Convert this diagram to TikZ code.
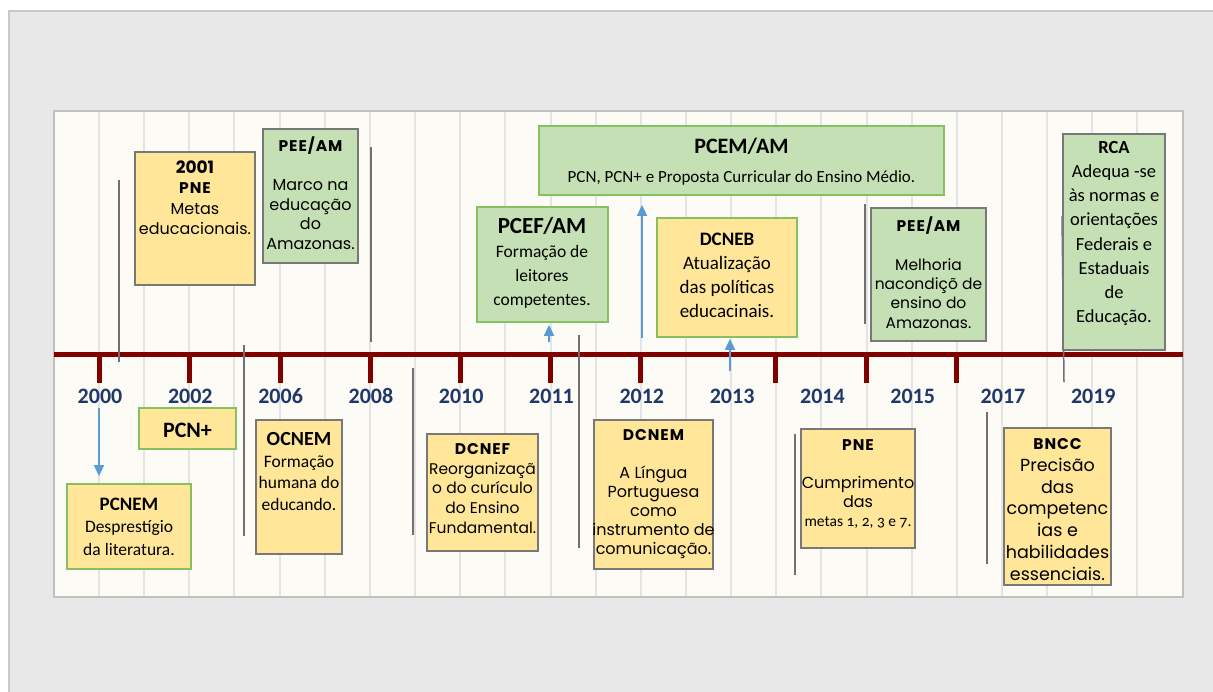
\documentclass[tikz,border=0pt]{standalone}
\usepackage{fontspec}
\setmainfont{Carlito}
\newfontfamily\gothic{Poppins}
\usetikzlibrary{arrows.meta}
\definecolor{outerbg}{RGB}{232,232,232}
\definecolor{outerline}{RGB}{200,200,200}
\definecolor{panelbg}{RGB}{253,251,245}
\definecolor{panelline}{RGB}{192,192,192}
\definecolor{gridgrey}{RGB}{228,228,228}
\definecolor{lineRed}{RGB}{128,0,0}
\definecolor{boxyellow}{RGB}{255,230,153}
\definecolor{boxgreen}{RGB}{197,224,180}
\definecolor{edgegrey}{RGB}{120,120,120}
\definecolor{edgegreen}{RGB}{135,192,95}
\definecolor{arrowblue}{RGB}{91,155,213}
\definecolor{yearblue}{RGB}{31,56,105}
\definecolor{leadgrey}{RGB}{112,112,112}
\newcommand{\gtitle}[1]{{\bfseries\fontsize{15.5}{15.5}\selectfont\addfontfeatures{LetterSpace=6}#1}}
\begin{document}
\begin{tikzpicture}[x=1pt, y=-1pt,
    ybox/.style={fill=boxyellow, draw=edgegrey, line width=1.8pt},
    gbox/.style={fill=boxgreen, draw=edgegrey, line width=1.8pt},
    gedge/.style={draw=edgegreen},
    year/.style={text=yearblue, anchor=base, font=\bfseries\fontsize{22}{22}\selectfont},
    tick/.style={lineRed, line width=5pt},
    leader/.style={leadgrey, line width=1.5pt},
    bluearrow/.style={arrowblue, line width=1.8pt, -{Triangle[width=10pt,length=11pt]}},
    txt/.style={align=center, inner sep=0pt}]
    \useasboundingbox (0,0) rectangle (1213,691);
    \clip (0,0) rectangle (1213,691);
    % page and panel
    \fill[white] (0,0) rectangle (1213,691);
    \draw[fill=outerbg, draw=outerline, line width=2pt] (9,11) rectangle (1240,720);
    \draw[fill=panelbg, draw=panelline, line width=2pt] (54,111) rectangle (1183,597);
    \foreach \k in {0,...,23}
        \draw[gridgrey, line width=2pt] ({99+45.15*\k},112) -- ({99+45.15*\k},596);
    % timeline
    \draw[lineRed, line width=5pt] (54,354.5) -- (1183,354.5);
    \foreach \t in {99,189,280,370,460,550,640,775,866,956}
        \draw[tick] (\t,354) -- (\t,383);
    % grey guide lines
    \draw[leader] (119,180) -- (119,362);
    \draw[leader] (371,147) -- (371,342);
    \draw[leader] (244,345) -- (244,536);
    \draw[leader] (413,368) -- (413,535);
    \draw[leader] (579,335) -- (579,548);
    \draw[leader] (795,434) -- (795,575);
    \draw[leader] (865,204) -- (865,324);
    \draw[leader] (987,412) -- (987,564);
    \draw[leader] (1062,216) -- (1064,382);
    % boxes above the line
    \node[ybox, minimum width=120pt, minimum height=133pt] (pne01) at (195,218.5) {};
    \node[gbox, minimum width=95pt, minimum height=134pt] (pee08) at (310.5,196) {};
    \node[gbox, gedge, minimum width=405pt, minimum height=69pt] (pcem) at (741.5,160.5) {};
    \node[gbox, gedge, minimum width=131pt, minimum height=115pt] (pcef) at (542.5,264.5) {};
    \node[ybox, gedge, minimum width=140pt, minimum height=119pt] (dcneb) at (727,277.5) {};
    \node[gbox, minimum width=115pt, minimum height=133pt] (pee15) at (928.5,274.5) {};
    \node[gbox, minimum width=102pt, minimum height=216pt] (rca) at (1114,242) {};
    % boxes below the line
    \node[ybox, gedge, minimum width=97pt, minimum height=41pt] (pcnplus) at (187.5,428.5) {};
    \node[ybox, gedge, minimum width=124pt, minimum height=85pt] (pcnem) at (129,526.5) {};
    \node[ybox, minimum width=86pt, minimum height=134pt] (ocnem) at (299,487) {};
    \node[ybox, minimum width=111pt, minimum height=117pt] (dcnef) at (482.5,492.5) {};
    \node[ybox, minimum width=119pt, minimum height=149pt] (dcnem) at (653.5,494.5) {};
    \node[ybox, minimum width=114pt, minimum height=119pt] (pne14) at (858,488.5) {};
    \node[ybox, minimum width=107pt, minimum height=157pt] (bncc) at (1057.5,506.5) {};
    % texts
    \node[txt, font=\gothic\fontsize{16}{20.5}\selectfont] (pne01t) at (195,197.5)
        {{\bfseries\fontsize{17}{17}\selectfont 2001}\\\gtitle{PNE}\\Metas\\educacionais.};
    \node[txt, font=\gothic\fontsize{16}{19.5}\selectfont] (pee08t) at (310.5,193)
        {\gtitle{PEE/AM}\\[19.5pt]Marco na\\educação\\do\\Amazonas.};
    \node[txt, font=\fontsize{17}{29}\selectfont] (pcemt) at (741.5,161.5)
        {{\bfseries\fontsize{22}{22}\selectfont PCEM/AM}\\PCN, PCN+ e Proposta Curricular do Ensino Médio.};
    \node[txt, font=\fontsize{17.5}{24}\selectfont] (pceft) at (542,263)
        {{\bfseries\fontsize{23}{23}\selectfont PCEF/AM}\\Formação de\\leitores\\competentes.};
    \node[txt, font=\fontsize{19}{24}\selectfont] (dcnebt) at (727,275)
        {{\bfseries DCNEB}\\Atualização\\das políticas\\educacinais.};
    \node[txt, font=\gothic\fontsize{15.5}{19.3}\selectfont] (pee15t) at (928.5,272.5)
        {\gtitle{PEE/AM}\\[19.3pt]Melhoria\\nacondiçõ de\\ensino do\\Amazonas.};
    \node[txt, font=\fontsize{18.5}{24.1}\selectfont] (rcat) at (1114,233.5)
        {{\bfseries RCA}\\Adequa -se\\às normas e\\orientações\\Federais e\\Estaduais\\de\\Educação.};
    \node[txt, font=\bfseries\fontsize{22}{22}\selectfont] (pcnplust) at (187.5,430) {PCN+};
    \node[txt, font=\fontsize{17.5}{22.5}\selectfont] (pcnemt) at (129,526.5)
        {{\bfseries\fontsize{19}{19}\selectfont PCNEM}\\Desprestígio\\da literatura.};
    \node[txt, font=\fontsize{17.5}{21.7}\selectfont] (ocnemt) at (299,471.5)
        {{\bfseries\fontsize{20}{20}\selectfont OCNEM}\\Formação\\humana do\\educando.};
    \node[txt, font=\gothic\fontsize{15.5}{19.75}\selectfont] (dcneft) at (482.5,488.5)
        {\gtitle{DCNEF}\\Reorganizaçã\\o do curículo\\do Ensino\\Fundamental.};
    \node[txt, font=\gothic\fontsize{16}{19}\selectfont] (dcnemt) at (653.5,494.5)
        {\gtitle{DCNEM}\\[19pt]A Língua\\Portuguesa\\como\\instrumento de\\comunicação.};
    \node[txt, font=\gothic\fontsize{16}{19}\selectfont] (pne14t) at (858,484.5)
        {\gtitle{PNE}\\[19pt]Cumprimento\\das\\{\rmfamily\fontsize{15.5}{15.5}\selectfont\addfontfeatures{Numbers=OldStyle}metas 1, 2, 3 e 7.}};
    \node[txt, font=\gothic\fontsize{17.5}{21.8}\selectfont] (bncct) at (1057.5,509.5)
        {\gtitle{BNCC}\\Precisão\\das\\competenc\\ias e\\habilidades\\essenciais.};
    % years
    \foreach \yr [count=\i from 0] in {2000,2002,2006,2008,2010,2011,2012,2013,2014,2015,2017,2019}
        \node[year] (y\yr) at ({100+90.3*\i},403) {\yr};
    % arrows
    \coordinate (a00) at (99,408);
    \coordinate (a11) at (549,342);
    \coordinate (a12) at (642,338);
    \coordinate (a13) at (730,371);
    \draw[bluearrow, shorten >=7pt] (a00) -- (a00 |- pcnem.north);
    \draw[bluearrow, shorten >=2pt] (a11) -- (a11 |- pcef.south);
    \draw[bluearrow, shorten >=9pt] (a12) -- (a12 |- pcem.south);
    \draw[bluearrow, shorten >=1pt] (a13) -- (a13 |- dcneb.south);
\end{tikzpicture}
\end{document}
